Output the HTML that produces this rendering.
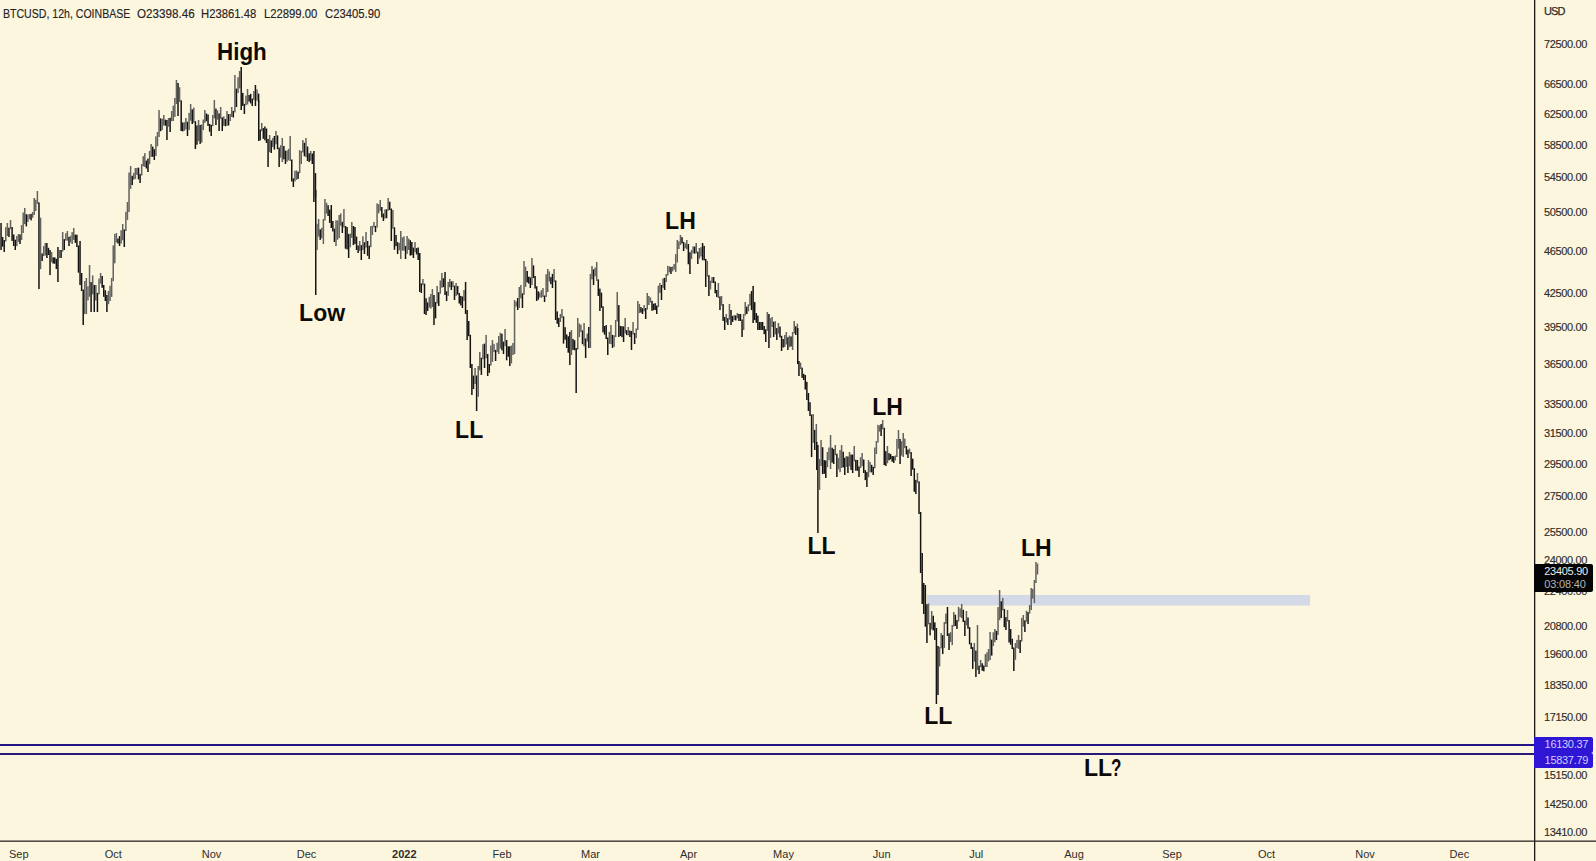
<!DOCTYPE html>
<html><head><meta charset="utf-8">
<style>
html,body{margin:0;padding:0;}
body{width:1596px;height:861px;overflow:hidden;background:#fdf6df;font-family:"Liberation Sans",sans-serif;}
#c{position:relative;width:1596px;height:861px;background:#fdf6df;overflow:hidden;}
svg{position:absolute;left:0;top:0;}
.hdr{position:absolute;left:3px;top:6.6px;font-size:12px;line-height:14px;color:#24231f;white-space:pre;transform:scaleX(0.94);transform-origin:0 0;-webkit-text-stroke:0.15px #24231f;}
.yl{position:absolute;left:1544px;font-size:11px;line-height:11px;color:#2e2d28;letter-spacing:-0.35px;white-space:nowrap;-webkit-text-stroke:0.15px #2e2d28;}
.xl{position:absolute;top:848px;width:60px;text-align:center;font-size:11px;line-height:12px;color:#2e2d28;}
.xl.b{font-weight:bold;}
.an{position:absolute;font-size:23px;line-height:24px;font-weight:bold;color:#0d0b08;white-space:nowrap;}
.tt{position:absolute;font-size:11px;line-height:11px;white-space:nowrap;}
.tag{position:absolute;left:1534px;width:59px;color:#fff;font-size:11px;line-height:13px;text-align:right;box-sizing:border-box;padding-right:6px;letter-spacing:-0.4px;border-radius:0 2px 2px 0;}
</style></head><body><div id="c">
<svg width="1596" height="861" viewBox="0 0 1596 861">
<rect x="927" y="595" width="383" height="10.5" fill="#d3d9e6"/>
<g fill="#1c1c1c">
<rect x="0.30" y="223.0" width="1.5" height="27.0" fill="#141414"/>
<rect x="1.88" y="237.0" width="1.5" height="9.7" fill="#141414"/>
<rect x="3.46" y="240.0" width="1.5" height="12.0" fill="#141414"/>
<rect x="5.04" y="227.1" width="1.5" height="14.4" fill="#62625e"/>
<rect x="6.62" y="223.0" width="1.5" height="13.0" fill="#62625e"/>
<rect x="8.20" y="227.7" width="1.5" height="9.3" fill="#141414"/>
<rect x="9.78" y="220.0" width="1.5" height="9.2" fill="#62625e"/>
<rect x="11.36" y="227.0" width="1.5" height="13.9" fill="#141414"/>
<rect x="12.94" y="234.5" width="1.5" height="11.5" fill="#141414"/>
<rect x="14.52" y="239.7" width="1.5" height="10.3" fill="#141414"/>
<rect x="16.10" y="235.9" width="1.5" height="10.2" fill="#62625e"/>
<rect x="17.68" y="234.0" width="1.5" height="7.9" fill="#62625e"/>
<rect x="19.26" y="234.4" width="1.5" height="9.6" fill="#141414"/>
<rect x="20.84" y="225.0" width="1.5" height="15.0" fill="#62625e"/>
<rect x="22.42" y="212.5" width="1.5" height="20.5" fill="#62625e"/>
<rect x="24.00" y="208.0" width="1.5" height="16.1" fill="#62625e"/>
<rect x="25.58" y="214.2" width="1.5" height="12.2" fill="#141414"/>
<rect x="27.16" y="214.5" width="1.5" height="7.5" fill="#62625e"/>
<rect x="28.74" y="214.0" width="1.5" height="5.0" fill="#62625e"/>
<rect x="30.32" y="213.9" width="1.5" height="6.5" fill="#141414"/>
<rect x="31.90" y="212.0" width="1.5" height="5.8" fill="#62625e"/>
<rect x="33.48" y="198.0" width="1.5" height="17.0" fill="#62625e"/>
<rect x="35.06" y="199.7" width="1.5" height="11.3" fill="#62625e"/>
<rect x="36.64" y="191.0" width="1.5" height="12.9" fill="#62625e"/>
<rect x="38.22" y="202.4" width="1.5" height="86.6" fill="#141414"/>
<rect x="39.80" y="217.7" width="1.5" height="51.5" fill="#62625e"/>
<rect x="41.38" y="253.5" width="1.5" height="7.5" fill="#141414"/>
<rect x="42.96" y="246.1" width="1.5" height="10.0" fill="#62625e"/>
<rect x="44.54" y="243.0" width="1.5" height="12.4" fill="#62625e"/>
<rect x="46.12" y="243.0" width="1.5" height="15.0" fill="#141414"/>
<rect x="47.70" y="247.8" width="1.5" height="7.2" fill="#141414"/>
<rect x="49.28" y="250.0" width="1.5" height="25.0" fill="#141414"/>
<rect x="50.86" y="252.0" width="1.5" height="10.2" fill="#62625e"/>
<rect x="52.44" y="257.3" width="1.5" height="6.3" fill="#141414"/>
<rect x="54.02" y="257.4" width="1.5" height="6.3" fill="#141414"/>
<rect x="55.60" y="258.8" width="1.5" height="10.2" fill="#141414"/>
<rect x="57.18" y="247.0" width="1.5" height="35.0" fill="#141414"/>
<rect x="58.76" y="250.0" width="1.5" height="8.0" fill="#62625e"/>
<rect x="60.34" y="250.0" width="1.5" height="8.0" fill="#141414"/>
<rect x="61.92" y="232.0" width="1.5" height="19.5" fill="#62625e"/>
<rect x="63.50" y="239.1" width="1.5" height="10.9" fill="#141414"/>
<rect x="65.08" y="233.2" width="1.5" height="7.4" fill="#62625e"/>
<rect x="66.66" y="231.0" width="1.5" height="9.7" fill="#62625e"/>
<rect x="68.24" y="236.9" width="1.5" height="9.1" fill="#141414"/>
<rect x="69.82" y="235.7" width="1.5" height="6.8" fill="#62625e"/>
<rect x="71.40" y="232.1" width="1.5" height="11.9" fill="#62625e"/>
<rect x="72.98" y="228.0" width="1.5" height="11.9" fill="#62625e"/>
<rect x="74.56" y="234.6" width="1.5" height="8.3" fill="#141414"/>
<rect x="76.14" y="234.7" width="1.5" height="12.3" fill="#141414"/>
<rect x="77.72" y="245.5" width="1.5" height="27.2" fill="#141414"/>
<rect x="79.30" y="241.0" width="1.5" height="44.0" fill="#141414"/>
<rect x="80.88" y="273.0" width="1.5" height="18.0" fill="#141414"/>
<rect x="82.46" y="289.5" width="1.5" height="35.5" fill="#141414"/>
<rect x="84.04" y="281.0" width="1.5" height="33.1" fill="#62625e"/>
<rect x="85.62" y="278.0" width="1.5" height="36.0" fill="#62625e"/>
<rect x="87.20" y="286.3" width="1.5" height="14.1" fill="#62625e"/>
<rect x="88.78" y="265.0" width="1.5" height="31.7" fill="#62625e"/>
<rect x="90.36" y="282.1" width="1.5" height="29.9" fill="#141414"/>
<rect x="91.94" y="275.4" width="1.5" height="19.0" fill="#62625e"/>
<rect x="93.52" y="285.0" width="1.5" height="27.0" fill="#141414"/>
<rect x="95.10" y="285.0" width="1.5" height="15.5" fill="#62625e"/>
<rect x="96.68" y="292.9" width="1.5" height="19.1" fill="#141414"/>
<rect x="98.26" y="278.6" width="1.5" height="15.8" fill="#62625e"/>
<rect x="99.84" y="273.0" width="1.5" height="10.6" fill="#62625e"/>
<rect x="101.42" y="276.0" width="1.5" height="11.8" fill="#141414"/>
<rect x="103.00" y="285.0" width="1.5" height="11.8" fill="#141414"/>
<rect x="104.58" y="290.2" width="1.5" height="10.8" fill="#141414"/>
<rect x="106.16" y="294.9" width="1.5" height="17.1" fill="#141414"/>
<rect x="107.74" y="291.0" width="1.5" height="13.2" fill="#62625e"/>
<rect x="109.32" y="285.7" width="1.5" height="15.3" fill="#62625e"/>
<rect x="110.90" y="278.0" width="1.5" height="18.9" fill="#62625e"/>
<rect x="112.48" y="245.4" width="1.5" height="35.6" fill="#62625e"/>
<rect x="114.06" y="234.0" width="1.5" height="29.3" fill="#62625e"/>
<rect x="115.64" y="233.0" width="1.5" height="9.5" fill="#62625e"/>
<rect x="117.22" y="238.5" width="1.5" height="5.0" fill="#141414"/>
<rect x="118.80" y="236.1" width="1.5" height="9.9" fill="#141414"/>
<rect x="120.38" y="230.2" width="1.5" height="13.3" fill="#62625e"/>
<rect x="121.96" y="224.0" width="1.5" height="16.2" fill="#62625e"/>
<rect x="123.54" y="229.4" width="1.5" height="17.6" fill="#141414"/>
<rect x="125.12" y="211.8" width="1.5" height="19.2" fill="#62625e"/>
<rect x="126.70" y="202.0" width="1.5" height="17.9" fill="#62625e"/>
<rect x="128.28" y="172.5" width="1.5" height="39.5" fill="#62625e"/>
<rect x="129.86" y="166.0" width="1.5" height="22.9" fill="#62625e"/>
<rect x="131.44" y="175.8" width="1.5" height="9.2" fill="#141414"/>
<rect x="133.02" y="172.8" width="1.5" height="6.9" fill="#62625e"/>
<rect x="134.60" y="168.0" width="1.5" height="10.9" fill="#62625e"/>
<rect x="136.18" y="167.9" width="1.5" height="7.0" fill="#62625e"/>
<rect x="137.76" y="167.6" width="1.5" height="11.8" fill="#141414"/>
<rect x="139.34" y="173.9" width="1.5" height="9.1" fill="#141414"/>
<rect x="140.92" y="164.0" width="1.5" height="11.5" fill="#62625e"/>
<rect x="142.50" y="156.2" width="1.5" height="10.2" fill="#62625e"/>
<rect x="144.08" y="153.1" width="1.5" height="13.8" fill="#62625e"/>
<rect x="145.66" y="160.6" width="1.5" height="7.9" fill="#141414"/>
<rect x="147.24" y="158.6" width="1.5" height="13.4" fill="#141414"/>
<rect x="148.82" y="151.0" width="1.5" height="13.1" fill="#62625e"/>
<rect x="150.40" y="144.0" width="1.5" height="13.0" fill="#62625e"/>
<rect x="151.98" y="146.6" width="1.5" height="10.2" fill="#141414"/>
<rect x="153.56" y="149.2" width="1.5" height="10.8" fill="#141414"/>
<rect x="155.14" y="136.4" width="1.5" height="19.6" fill="#62625e"/>
<rect x="156.72" y="132.0" width="1.5" height="14.2" fill="#62625e"/>
<rect x="158.30" y="110.0" width="1.5" height="27.0" fill="#62625e"/>
<rect x="159.88" y="118.4" width="1.5" height="12.8" fill="#141414"/>
<rect x="161.46" y="118.7" width="1.5" height="11.3" fill="#62625e"/>
<rect x="163.04" y="115.0" width="1.5" height="10.7" fill="#62625e"/>
<rect x="164.62" y="119.6" width="1.5" height="6.0" fill="#141414"/>
<rect x="166.20" y="120.0" width="1.5" height="20.0" fill="#141414"/>
<rect x="167.78" y="118.1" width="1.5" height="8.6" fill="#62625e"/>
<rect x="169.36" y="117.8" width="1.5" height="14.2" fill="#141414"/>
<rect x="170.94" y="111.0" width="1.5" height="10.2" fill="#62625e"/>
<rect x="172.52" y="105.7" width="1.5" height="15.3" fill="#62625e"/>
<rect x="174.10" y="98.0" width="1.5" height="18.9" fill="#62625e"/>
<rect x="175.68" y="80.0" width="1.5" height="24.0" fill="#62625e"/>
<rect x="177.26" y="83.0" width="1.5" height="33.0" fill="#141414"/>
<rect x="178.84" y="87.2" width="1.5" height="14.6" fill="#62625e"/>
<rect x="180.42" y="100.3" width="1.5" height="30.7" fill="#141414"/>
<rect x="182.00" y="122.5" width="1.5" height="8.9" fill="#141414"/>
<rect x="183.58" y="122.2" width="1.5" height="8.6" fill="#62625e"/>
<rect x="185.16" y="118.0" width="1.5" height="11.4" fill="#62625e"/>
<rect x="186.74" y="121.7" width="1.5" height="14.3" fill="#141414"/>
<rect x="188.32" y="112.9" width="1.5" height="17.1" fill="#62625e"/>
<rect x="189.90" y="104.0" width="1.5" height="16.7" fill="#62625e"/>
<rect x="191.48" y="109.3" width="1.5" height="14.7" fill="#141414"/>
<rect x="193.06" y="107.5" width="1.5" height="15.3" fill="#62625e"/>
<rect x="194.64" y="121.2" width="1.5" height="27.8" fill="#141414"/>
<rect x="196.22" y="125.4" width="1.5" height="19.3" fill="#141414"/>
<rect x="197.80" y="120.0" width="1.5" height="21.0" fill="#62625e"/>
<rect x="199.38" y="124.9" width="1.5" height="19.0" fill="#141414"/>
<rect x="200.96" y="124.4" width="1.5" height="18.2" fill="#62625e"/>
<rect x="202.54" y="119.5" width="1.5" height="10.5" fill="#62625e"/>
<rect x="204.12" y="110.0" width="1.5" height="12.9" fill="#62625e"/>
<rect x="205.70" y="113.5" width="1.5" height="7.7" fill="#141414"/>
<rect x="207.28" y="114.5" width="1.5" height="11.4" fill="#141414"/>
<rect x="208.86" y="123.9" width="1.5" height="7.8" fill="#141414"/>
<rect x="210.44" y="124.8" width="1.5" height="11.2" fill="#141414"/>
<rect x="212.02" y="115.0" width="1.5" height="11.3" fill="#62625e"/>
<rect x="213.60" y="100.0" width="1.5" height="18.4" fill="#62625e"/>
<rect x="215.18" y="108.6" width="1.5" height="16.4" fill="#141414"/>
<rect x="216.76" y="110.4" width="1.5" height="9.2" fill="#62625e"/>
<rect x="218.34" y="113.4" width="1.5" height="17.6" fill="#141414"/>
<rect x="219.92" y="107.0" width="1.5" height="11.9" fill="#62625e"/>
<rect x="221.50" y="117.4" width="1.5" height="13.6" fill="#141414"/>
<rect x="223.08" y="116.3" width="1.5" height="9.5" fill="#62625e"/>
<rect x="224.66" y="119.0" width="1.5" height="7.2" fill="#141414"/>
<rect x="226.24" y="111.0" width="1.5" height="14.9" fill="#62625e"/>
<rect x="227.82" y="114.1" width="1.5" height="11.3" fill="#141414"/>
<rect x="229.40" y="113.9" width="1.5" height="7.1" fill="#62625e"/>
<rect x="230.98" y="107.0" width="1.5" height="9.9" fill="#62625e"/>
<rect x="232.56" y="110.9" width="1.5" height="6.6" fill="#141414"/>
<rect x="234.14" y="75.0" width="1.5" height="37.4" fill="#62625e"/>
<rect x="235.72" y="88.6" width="1.5" height="18.4" fill="#141414"/>
<rect x="237.30" y="77.2" width="1.5" height="15.8" fill="#62625e"/>
<rect x="238.88" y="71.0" width="1.5" height="17.4" fill="#62625e"/>
<rect x="240.46" y="67.0" width="1.5" height="43.0" fill="#141414"/>
<rect x="242.04" y="92.9" width="1.5" height="13.0" fill="#141414"/>
<rect x="243.62" y="103.8" width="1.5" height="10.2" fill="#141414"/>
<rect x="245.20" y="95.6" width="1.5" height="9.7" fill="#62625e"/>
<rect x="246.78" y="89.0" width="1.5" height="15.5" fill="#62625e"/>
<rect x="248.36" y="95.0" width="1.5" height="6.6" fill="#141414"/>
<rect x="249.94" y="93.8" width="1.5" height="9.6" fill="#141414"/>
<rect x="251.52" y="98.6" width="1.5" height="7.4" fill="#141414"/>
<rect x="253.10" y="91.0" width="1.5" height="9.1" fill="#62625e"/>
<rect x="254.68" y="85.0" width="1.5" height="21.0" fill="#141414"/>
<rect x="256.26" y="89.4" width="1.5" height="11.2" fill="#62625e"/>
<rect x="257.84" y="93.6" width="1.5" height="8.4" fill="#141414"/>
<rect x="258.00" y="100.6" width="1.5" height="40.4" fill="#141414"/>
<rect x="259.42" y="129.5" width="1.5" height="10.8" fill="#141414"/>
<rect x="261.00" y="123.0" width="1.5" height="8.1" fill="#62625e"/>
<rect x="262.58" y="128.1" width="1.5" height="10.7" fill="#141414"/>
<rect x="264.16" y="126.5" width="1.5" height="13.8" fill="#141414"/>
<rect x="265.74" y="128.5" width="1.5" height="14.5" fill="#141414"/>
<rect x="267.32" y="139.0" width="1.5" height="28.0" fill="#141414"/>
<rect x="268.90" y="135.0" width="1.5" height="17.1" fill="#62625e"/>
<rect x="270.48" y="140.4" width="1.5" height="12.6" fill="#141414"/>
<rect x="272.06" y="138.1" width="1.5" height="9.0" fill="#62625e"/>
<rect x="273.64" y="136.0" width="1.5" height="13.6" fill="#141414"/>
<rect x="275.22" y="131.0" width="1.5" height="13.3" fill="#62625e"/>
<rect x="276.80" y="135.4" width="1.5" height="13.7" fill="#141414"/>
<rect x="278.38" y="147.6" width="1.5" height="19.4" fill="#141414"/>
<rect x="279.96" y="145.2" width="1.5" height="12.4" fill="#62625e"/>
<rect x="281.54" y="138.0" width="1.5" height="24.1" fill="#62625e"/>
<rect x="283.12" y="146.0" width="1.5" height="13.3" fill="#141414"/>
<rect x="284.70" y="150.7" width="1.5" height="13.3" fill="#141414"/>
<rect x="286.28" y="150.4" width="1.5" height="11.4" fill="#62625e"/>
<rect x="287.86" y="148.8" width="1.5" height="11.5" fill="#62625e"/>
<rect x="289.44" y="136.0" width="1.5" height="25.0" fill="#62625e"/>
<rect x="291.02" y="159.5" width="1.5" height="22.0" fill="#141414"/>
<rect x="292.60" y="178.3" width="1.5" height="8.7" fill="#141414"/>
<rect x="294.18" y="170.8" width="1.5" height="10.6" fill="#62625e"/>
<rect x="295.76" y="170.4" width="1.5" height="9.5" fill="#62625e"/>
<rect x="297.34" y="171.7" width="1.5" height="7.2" fill="#141414"/>
<rect x="298.92" y="150.1" width="1.5" height="23.1" fill="#62625e"/>
<rect x="300.50" y="151.0" width="1.5" height="13.0" fill="#62625e"/>
<rect x="302.08" y="140.0" width="1.5" height="12.5" fill="#62625e"/>
<rect x="303.66" y="142.7" width="1.5" height="13.6" fill="#141414"/>
<rect x="305.24" y="138.0" width="1.5" height="19.1" fill="#62625e"/>
<rect x="306.82" y="146.5" width="1.5" height="14.5" fill="#141414"/>
<rect x="308.40" y="153.3" width="1.5" height="8.8" fill="#141414"/>
<rect x="309.98" y="151.0" width="1.5" height="9.7" fill="#62625e"/>
<rect x="311.56" y="153.5" width="1.5" height="10.5" fill="#141414"/>
<rect x="313.14" y="151.0" width="1.5" height="51.0" fill="#141414"/>
<rect x="314.72" y="173.1" width="1.5" height="24.4" fill="#141414"/>
<rect x="315.00" y="190.0" width="1.5" height="105.0" fill="#141414"/>
<rect x="316.30" y="223.8" width="1.5" height="26.2" fill="#62625e"/>
<rect x="317.88" y="219.0" width="1.5" height="17.6" fill="#62625e"/>
<rect x="319.46" y="229.4" width="1.5" height="10.5" fill="#141414"/>
<rect x="321.04" y="227.8" width="1.5" height="10.5" fill="#62625e"/>
<rect x="322.62" y="219.0" width="1.5" height="25.0" fill="#62625e"/>
<rect x="324.20" y="199.0" width="1.5" height="21.5" fill="#62625e"/>
<rect x="325.78" y="202.7" width="1.5" height="11.0" fill="#62625e"/>
<rect x="327.36" y="205.2" width="1.5" height="10.8" fill="#141414"/>
<rect x="328.94" y="209.6" width="1.5" height="13.3" fill="#141414"/>
<rect x="330.52" y="205.0" width="1.5" height="23.0" fill="#141414"/>
<rect x="332.10" y="221.0" width="1.5" height="10.5" fill="#141414"/>
<rect x="333.68" y="228.6" width="1.5" height="13.4" fill="#141414"/>
<rect x="335.26" y="220.3" width="1.5" height="25.7" fill="#62625e"/>
<rect x="336.84" y="220.4" width="1.5" height="19.3" fill="#62625e"/>
<rect x="338.42" y="215.0" width="1.5" height="23.1" fill="#62625e"/>
<rect x="340.00" y="213.4" width="1.5" height="12.4" fill="#62625e"/>
<rect x="341.58" y="221.8" width="1.5" height="11.2" fill="#141414"/>
<rect x="343.16" y="209.0" width="1.5" height="18.5" fill="#62625e"/>
<rect x="344.74" y="226.0" width="1.5" height="22.7" fill="#141414"/>
<rect x="346.32" y="227.0" width="1.5" height="22.4" fill="#141414"/>
<rect x="347.90" y="233.9" width="1.5" height="24.1" fill="#141414"/>
<rect x="349.48" y="233.6" width="1.5" height="13.7" fill="#62625e"/>
<rect x="351.06" y="222.0" width="1.5" height="15.8" fill="#62625e"/>
<rect x="352.64" y="226.0" width="1.5" height="19.1" fill="#141414"/>
<rect x="354.22" y="227.0" width="1.5" height="16.9" fill="#141414"/>
<rect x="355.80" y="236.6" width="1.5" height="13.4" fill="#141414"/>
<rect x="357.38" y="245.5" width="1.5" height="7.5" fill="#141414"/>
<rect x="358.96" y="241.0" width="1.5" height="9.8" fill="#62625e"/>
<rect x="360.54" y="245.1" width="1.5" height="14.9" fill="#141414"/>
<rect x="362.12" y="236.2" width="1.5" height="13.9" fill="#62625e"/>
<rect x="363.70" y="242.2" width="1.5" height="11.8" fill="#141414"/>
<rect x="365.28" y="232.0" width="1.5" height="15.6" fill="#62625e"/>
<rect x="366.86" y="241.0" width="1.5" height="14.8" fill="#141414"/>
<rect x="368.44" y="245.7" width="1.5" height="13.3" fill="#141414"/>
<rect x="370.02" y="226.1" width="1.5" height="21.1" fill="#62625e"/>
<rect x="371.60" y="225.9" width="1.5" height="9.1" fill="#62625e"/>
<rect x="373.18" y="222.0" width="1.5" height="5.4" fill="#62625e"/>
<rect x="374.76" y="225.9" width="1.5" height="6.2" fill="#141414"/>
<rect x="376.34" y="203.4" width="1.5" height="24.1" fill="#62625e"/>
<rect x="377.92" y="204.1" width="1.5" height="9.2" fill="#62625e"/>
<rect x="379.50" y="200.0" width="1.5" height="10.9" fill="#62625e"/>
<rect x="381.08" y="207.0" width="1.5" height="10.4" fill="#141414"/>
<rect x="382.66" y="213.5" width="1.5" height="7.5" fill="#141414"/>
<rect x="384.24" y="209.4" width="1.5" height="9.2" fill="#62625e"/>
<rect x="385.82" y="209.3" width="1.5" height="8.9" fill="#141414"/>
<rect x="387.40" y="198.0" width="1.5" height="12.8" fill="#62625e"/>
<rect x="388.98" y="201.7" width="1.5" height="8.3" fill="#141414"/>
<rect x="390.56" y="208.5" width="1.5" height="32.5" fill="#141414"/>
<rect x="392.14" y="210.0" width="1.5" height="18.8" fill="#62625e"/>
<rect x="393.72" y="227.3" width="1.5" height="22.5" fill="#141414"/>
<rect x="395.30" y="235.0" width="1.5" height="11.1" fill="#141414"/>
<rect x="396.88" y="242.2" width="1.5" height="11.8" fill="#141414"/>
<rect x="398.46" y="242.8" width="1.5" height="7.5" fill="#62625e"/>
<rect x="400.04" y="231.0" width="1.5" height="28.0" fill="#62625e"/>
<rect x="401.62" y="237.4" width="1.5" height="13.3" fill="#62625e"/>
<rect x="403.20" y="236.4" width="1.5" height="14.3" fill="#62625e"/>
<rect x="404.78" y="245.9" width="1.5" height="13.1" fill="#141414"/>
<rect x="406.36" y="236.0" width="1.5" height="17.9" fill="#62625e"/>
<rect x="407.94" y="238.6" width="1.5" height="11.4" fill="#62625e"/>
<rect x="409.52" y="240.2" width="1.5" height="15.4" fill="#141414"/>
<rect x="411.10" y="242.0" width="1.5" height="13.2" fill="#141414"/>
<rect x="412.68" y="247.6" width="1.5" height="10.4" fill="#141414"/>
<rect x="414.26" y="242.0" width="1.5" height="10.1" fill="#62625e"/>
<rect x="415.84" y="248.1" width="1.5" height="6.4" fill="#141414"/>
<rect x="417.42" y="247.5" width="1.5" height="12.5" fill="#141414"/>
<rect x="419.00" y="253.0" width="1.5" height="39.0" fill="#141414"/>
<rect x="420.58" y="283.4" width="1.5" height="9.6" fill="#141414"/>
<rect x="422.16" y="279.0" width="1.5" height="6.1" fill="#62625e"/>
<rect x="423.74" y="283.6" width="1.5" height="30.4" fill="#141414"/>
<rect x="425.32" y="298.3" width="1.5" height="16.7" fill="#141414"/>
<rect x="426.90" y="302.4" width="1.5" height="8.6" fill="#141414"/>
<rect x="428.48" y="296.8" width="1.5" height="10.8" fill="#62625e"/>
<rect x="430.06" y="294.0" width="1.5" height="14.7" fill="#62625e"/>
<rect x="431.64" y="289.0" width="1.5" height="18.0" fill="#62625e"/>
<rect x="433.22" y="295.0" width="1.5" height="30.0" fill="#141414"/>
<rect x="434.80" y="302.0" width="1.5" height="16.3" fill="#141414"/>
<rect x="436.38" y="286.0" width="1.5" height="17.5" fill="#62625e"/>
<rect x="437.96" y="292.2" width="1.5" height="13.8" fill="#141414"/>
<rect x="439.54" y="280.5" width="1.5" height="13.2" fill="#62625e"/>
<rect x="441.12" y="273.0" width="1.5" height="14.7" fill="#62625e"/>
<rect x="442.70" y="278.2" width="1.5" height="8.9" fill="#141414"/>
<rect x="444.28" y="272.0" width="1.5" height="23.0" fill="#141414"/>
<rect x="445.86" y="291.3" width="1.5" height="9.7" fill="#141414"/>
<rect x="447.44" y="282.0" width="1.5" height="13.8" fill="#62625e"/>
<rect x="449.02" y="279.0" width="1.5" height="8.2" fill="#62625e"/>
<rect x="450.60" y="281.4" width="1.5" height="8.6" fill="#141414"/>
<rect x="452.18" y="281.1" width="1.5" height="6.0" fill="#62625e"/>
<rect x="453.76" y="285.6" width="1.5" height="14.4" fill="#141414"/>
<rect x="455.34" y="283.0" width="1.5" height="13.1" fill="#62625e"/>
<rect x="456.92" y="286.0" width="1.5" height="8.6" fill="#141414"/>
<rect x="458.50" y="293.0" width="1.5" height="10.5" fill="#141414"/>
<rect x="460.08" y="295.9" width="1.5" height="9.5" fill="#141414"/>
<rect x="461.66" y="296.5" width="1.5" height="11.5" fill="#141414"/>
<rect x="463.24" y="290.0" width="1.5" height="10.9" fill="#62625e"/>
<rect x="464.82" y="282.0" width="1.5" height="32.0" fill="#141414"/>
<rect x="466.40" y="310.0" width="1.5" height="30.0" fill="#141414"/>
<rect x="467.98" y="321.0" width="1.5" height="15.2" fill="#141414"/>
<rect x="469.56" y="334.8" width="1.5" height="33.2" fill="#141414"/>
<rect x="471.14" y="364.0" width="1.5" height="31.0" fill="#141414"/>
<rect x="472.72" y="375.6" width="1.5" height="13.4" fill="#141414"/>
<rect x="474.30" y="368.0" width="1.5" height="16.1" fill="#62625e"/>
<rect x="475.88" y="375.5" width="1.5" height="35.5" fill="#141414"/>
<rect x="477.46" y="366.0" width="1.5" height="30.7" fill="#62625e"/>
<rect x="479.04" y="352.0" width="1.5" height="18.3" fill="#62625e"/>
<rect x="480.62" y="357.7" width="1.5" height="17.3" fill="#141414"/>
<rect x="482.20" y="344.2" width="1.5" height="15.0" fill="#62625e"/>
<rect x="483.78" y="343.6" width="1.5" height="24.4" fill="#141414"/>
<rect x="485.36" y="335.0" width="1.5" height="23.3" fill="#62625e"/>
<rect x="486.94" y="354.0" width="1.5" height="22.0" fill="#141414"/>
<rect x="488.52" y="364.0" width="1.5" height="8.8" fill="#141414"/>
<rect x="490.10" y="345.4" width="1.5" height="20.1" fill="#62625e"/>
<rect x="491.68" y="340.0" width="1.5" height="22.0" fill="#62625e"/>
<rect x="493.26" y="343.8" width="1.5" height="8.3" fill="#62625e"/>
<rect x="494.84" y="349.9" width="1.5" height="11.1" fill="#141414"/>
<rect x="496.42" y="342.7" width="1.5" height="9.4" fill="#62625e"/>
<rect x="498.00" y="336.0" width="1.5" height="17.9" fill="#62625e"/>
<rect x="499.58" y="332.8" width="1.5" height="15.6" fill="#62625e"/>
<rect x="501.16" y="333.7" width="1.5" height="16.6" fill="#141414"/>
<rect x="502.74" y="341.6" width="1.5" height="12.4" fill="#141414"/>
<rect x="504.32" y="329.0" width="1.5" height="17.1" fill="#62625e"/>
<rect x="505.90" y="340.0" width="1.5" height="20.3" fill="#141414"/>
<rect x="507.48" y="346.3" width="1.5" height="10.4" fill="#141414"/>
<rect x="509.06" y="346.3" width="1.5" height="19.7" fill="#141414"/>
<rect x="510.64" y="345.5" width="1.5" height="17.9" fill="#62625e"/>
<rect x="512.22" y="343.0" width="1.5" height="12.0" fill="#62625e"/>
<rect x="513.80" y="300.0" width="1.5" height="54.0" fill="#62625e"/>
<rect x="515.38" y="301.5" width="1.5" height="5.1" fill="#62625e"/>
<rect x="516.96" y="298.0" width="1.5" height="12.0" fill="#141414"/>
<rect x="518.54" y="287.0" width="1.5" height="21.0" fill="#62625e"/>
<rect x="520.12" y="285.0" width="1.5" height="13.4" fill="#62625e"/>
<rect x="521.70" y="293.3" width="1.5" height="14.7" fill="#141414"/>
<rect x="523.28" y="261.0" width="1.5" height="33.8" fill="#62625e"/>
<rect x="524.86" y="266.7" width="1.5" height="20.2" fill="#62625e"/>
<rect x="526.44" y="271.0" width="1.5" height="11.4" fill="#141414"/>
<rect x="528.02" y="276.7" width="1.5" height="6.9" fill="#141414"/>
<rect x="529.60" y="277.3" width="1.5" height="10.7" fill="#141414"/>
<rect x="531.18" y="258.0" width="1.5" height="27.0" fill="#62625e"/>
<rect x="532.76" y="265.4" width="1.5" height="12.7" fill="#141414"/>
<rect x="534.34" y="276.0" width="1.5" height="12.6" fill="#141414"/>
<rect x="535.92" y="286.3" width="1.5" height="14.7" fill="#141414"/>
<rect x="537.50" y="291.3" width="1.5" height="8.4" fill="#141414"/>
<rect x="539.08" y="292.5" width="1.5" height="5.0" fill="#62625e"/>
<rect x="540.66" y="290.1" width="1.5" height="7.6" fill="#62625e"/>
<rect x="542.24" y="288.0" width="1.5" height="9.0" fill="#62625e"/>
<rect x="543.82" y="295.5" width="1.5" height="6.5" fill="#141414"/>
<rect x="545.40" y="274.3" width="1.5" height="22.7" fill="#62625e"/>
<rect x="546.98" y="269.0" width="1.5" height="23.0" fill="#62625e"/>
<rect x="548.56" y="271.4" width="1.5" height="10.1" fill="#62625e"/>
<rect x="550.14" y="277.1" width="1.5" height="7.1" fill="#141414"/>
<rect x="551.72" y="273.9" width="1.5" height="14.1" fill="#141414"/>
<rect x="553.30" y="269.0" width="1.5" height="12.9" fill="#62625e"/>
<rect x="554.88" y="280.4" width="1.5" height="39.6" fill="#141414"/>
<rect x="556.46" y="311.4" width="1.5" height="12.4" fill="#141414"/>
<rect x="558.04" y="317.9" width="1.5" height="9.1" fill="#141414"/>
<rect x="559.62" y="314.0" width="1.5" height="8.0" fill="#62625e"/>
<rect x="561.20" y="309.0" width="1.5" height="8.9" fill="#62625e"/>
<rect x="562.78" y="316.4" width="1.5" height="27.2" fill="#141414"/>
<rect x="564.36" y="327.2" width="1.5" height="12.5" fill="#141414"/>
<rect x="565.94" y="334.4" width="1.5" height="13.6" fill="#141414"/>
<rect x="567.52" y="336.3" width="1.5" height="16.4" fill="#141414"/>
<rect x="569.10" y="332.0" width="1.5" height="33.0" fill="#141414"/>
<rect x="570.68" y="330.0" width="1.5" height="25.0" fill="#62625e"/>
<rect x="572.26" y="338.9" width="1.5" height="11.0" fill="#141414"/>
<rect x="573.84" y="340.2" width="1.5" height="10.1" fill="#141414"/>
<rect x="575.42" y="348.0" width="1.5" height="45.0" fill="#141414"/>
<rect x="577.00" y="318.0" width="1.5" height="31.5" fill="#62625e"/>
<rect x="578.58" y="323.5" width="1.5" height="13.5" fill="#62625e"/>
<rect x="580.16" y="324.7" width="1.5" height="7.2" fill="#62625e"/>
<rect x="581.74" y="330.4" width="1.5" height="13.8" fill="#141414"/>
<rect x="583.32" y="323.0" width="1.5" height="23.3" fill="#62625e"/>
<rect x="584.90" y="338.4" width="1.5" height="19.6" fill="#141414"/>
<rect x="586.48" y="333.6" width="1.5" height="7.9" fill="#62625e"/>
<rect x="588.06" y="327.0" width="1.5" height="21.0" fill="#141414"/>
<rect x="589.64" y="274.0" width="1.5" height="74.0" fill="#62625e"/>
<rect x="591.22" y="266.1" width="1.5" height="13.2" fill="#62625e"/>
<rect x="592.80" y="269.3" width="1.5" height="15.7" fill="#141414"/>
<rect x="594.38" y="267.6" width="1.5" height="8.7" fill="#62625e"/>
<rect x="595.96" y="262.0" width="1.5" height="18.9" fill="#62625e"/>
<rect x="597.54" y="279.4" width="1.5" height="16.5" fill="#141414"/>
<rect x="599.12" y="288.6" width="1.5" height="22.4" fill="#141414"/>
<rect x="600.70" y="292.6" width="1.5" height="15.3" fill="#141414"/>
<rect x="602.28" y="306.3" width="1.5" height="26.0" fill="#141414"/>
<rect x="603.86" y="326.0" width="1.5" height="8.7" fill="#141414"/>
<rect x="605.44" y="325.1" width="1.5" height="13.9" fill="#141414"/>
<rect x="607.02" y="337.5" width="1.5" height="17.5" fill="#141414"/>
<rect x="608.60" y="331.9" width="1.5" height="11.9" fill="#62625e"/>
<rect x="610.18" y="325.0" width="1.5" height="19.1" fill="#62625e"/>
<rect x="611.76" y="334.9" width="1.5" height="13.0" fill="#141414"/>
<rect x="613.34" y="335.2" width="1.5" height="11.6" fill="#62625e"/>
<rect x="614.92" y="320.0" width="1.5" height="17.0" fill="#62625e"/>
<rect x="616.50" y="292.0" width="1.5" height="29.5" fill="#62625e"/>
<rect x="618.08" y="305.1" width="1.5" height="31.9" fill="#141414"/>
<rect x="619.66" y="325.9" width="1.5" height="10.1" fill="#141414"/>
<rect x="621.24" y="326.2" width="1.5" height="11.0" fill="#141414"/>
<rect x="622.82" y="326.4" width="1.5" height="15.6" fill="#141414"/>
<rect x="624.40" y="318.0" width="1.5" height="15.4" fill="#62625e"/>
<rect x="625.98" y="330.1" width="1.5" height="5.0" fill="#141414"/>
<rect x="627.56" y="327.0" width="1.5" height="8.2" fill="#62625e"/>
<rect x="629.14" y="330.5" width="1.5" height="6.5" fill="#141414"/>
<rect x="630.72" y="331.0" width="1.5" height="19.0" fill="#141414"/>
<rect x="632.30" y="322.0" width="1.5" height="12.5" fill="#62625e"/>
<rect x="633.88" y="333.0" width="1.5" height="11.0" fill="#141414"/>
<rect x="635.46" y="328.5" width="1.5" height="9.6" fill="#62625e"/>
<rect x="637.04" y="301.0" width="1.5" height="29.0" fill="#62625e"/>
<rect x="638.62" y="303.9" width="1.5" height="9.2" fill="#62625e"/>
<rect x="640.20" y="307.1" width="1.5" height="5.5" fill="#141414"/>
<rect x="641.78" y="308.3" width="1.5" height="5.7" fill="#141414"/>
<rect x="643.36" y="305.0" width="1.5" height="6.3" fill="#62625e"/>
<rect x="644.94" y="308.0" width="1.5" height="11.0" fill="#141414"/>
<rect x="646.52" y="293.0" width="1.5" height="16.5" fill="#62625e"/>
<rect x="648.10" y="296.0" width="1.5" height="9.0" fill="#62625e"/>
<rect x="649.68" y="297.4" width="1.5" height="5.0" fill="#62625e"/>
<rect x="651.26" y="300.9" width="1.5" height="9.9" fill="#141414"/>
<rect x="652.84" y="303.7" width="1.5" height="6.5" fill="#141414"/>
<rect x="654.42" y="303.2" width="1.5" height="6.8" fill="#141414"/>
<rect x="656.00" y="305.5" width="1.5" height="8.5" fill="#141414"/>
<rect x="657.58" y="285.7" width="1.5" height="21.3" fill="#62625e"/>
<rect x="659.16" y="283.0" width="1.5" height="9.9" fill="#62625e"/>
<rect x="660.74" y="285.0" width="1.5" height="15.0" fill="#141414"/>
<rect x="662.32" y="278.4" width="1.5" height="9.5" fill="#62625e"/>
<rect x="663.90" y="277.9" width="1.5" height="12.1" fill="#141414"/>
<rect x="665.48" y="274.0" width="1.5" height="8.0" fill="#62625e"/>
<rect x="667.06" y="265.9" width="1.5" height="9.6" fill="#62625e"/>
<rect x="668.64" y="266.3" width="1.5" height="6.0" fill="#62625e"/>
<rect x="670.22" y="267.0" width="1.5" height="7.0" fill="#141414"/>
<rect x="671.80" y="266.4" width="1.5" height="5.0" fill="#62625e"/>
<rect x="673.38" y="264.0" width="1.5" height="5.7" fill="#62625e"/>
<rect x="674.96" y="254.2" width="1.5" height="17.8" fill="#62625e"/>
<rect x="676.54" y="240.0" width="1.5" height="22.5" fill="#62625e"/>
<rect x="678.12" y="241.3" width="1.5" height="7.7" fill="#62625e"/>
<rect x="679.70" y="235.0" width="1.5" height="10.0" fill="#62625e"/>
<rect x="681.28" y="237.2" width="1.5" height="6.2" fill="#141414"/>
<rect x="682.86" y="241.9" width="1.5" height="9.1" fill="#141414"/>
<rect x="684.44" y="243.3" width="1.5" height="5.0" fill="#62625e"/>
<rect x="686.02" y="240.0" width="1.5" height="9.3" fill="#62625e"/>
<rect x="687.60" y="244.0" width="1.5" height="20.3" fill="#141414"/>
<rect x="689.18" y="252.3" width="1.5" height="21.7" fill="#141414"/>
<rect x="690.76" y="250.1" width="1.5" height="8.9" fill="#62625e"/>
<rect x="692.34" y="246.4" width="1.5" height="7.0" fill="#62625e"/>
<rect x="693.92" y="246.5" width="1.5" height="7.2" fill="#141414"/>
<rect x="695.50" y="243.0" width="1.5" height="10.2" fill="#62625e"/>
<rect x="697.08" y="251.7" width="1.5" height="12.3" fill="#141414"/>
<rect x="698.66" y="248.0" width="1.5" height="10.6" fill="#62625e"/>
<rect x="700.24" y="247.2" width="1.5" height="9.3" fill="#62625e"/>
<rect x="701.82" y="243.0" width="1.5" height="17.2" fill="#141414"/>
<rect x="703.40" y="245.9" width="1.5" height="14.5" fill="#141414"/>
<rect x="704.98" y="258.9" width="1.5" height="28.1" fill="#141414"/>
<rect x="706.56" y="261.0" width="1.5" height="15.7" fill="#62625e"/>
<rect x="708.14" y="275.2" width="1.5" height="20.8" fill="#141414"/>
<rect x="709.72" y="280.7" width="1.5" height="8.7" fill="#62625e"/>
<rect x="711.30" y="277.0" width="1.5" height="6.0" fill="#62625e"/>
<rect x="712.88" y="277.0" width="1.5" height="6.0" fill="#141414"/>
<rect x="714.46" y="281.5" width="1.5" height="11.8" fill="#141414"/>
<rect x="716.04" y="290.0" width="1.5" height="7.0" fill="#141414"/>
<rect x="717.62" y="283.0" width="1.5" height="15.0" fill="#62625e"/>
<rect x="719.20" y="296.5" width="1.5" height="13.5" fill="#141414"/>
<rect x="720.78" y="296.0" width="1.5" height="9.6" fill="#62625e"/>
<rect x="722.36" y="304.1" width="1.5" height="16.8" fill="#141414"/>
<rect x="723.94" y="316.9" width="1.5" height="13.1" fill="#141414"/>
<rect x="725.52" y="314.0" width="1.5" height="8.6" fill="#62625e"/>
<rect x="727.10" y="318.1" width="1.5" height="6.9" fill="#141414"/>
<rect x="728.68" y="304.0" width="1.5" height="15.6" fill="#62625e"/>
<rect x="730.26" y="310.0" width="1.5" height="15.0" fill="#141414"/>
<rect x="731.84" y="315.9" width="1.5" height="6.1" fill="#141414"/>
<rect x="733.42" y="315.1" width="1.5" height="5.0" fill="#62625e"/>
<rect x="735.00" y="315.4" width="1.5" height="5.0" fill="#141414"/>
<rect x="736.58" y="313.0" width="1.5" height="5.3" fill="#62625e"/>
<rect x="738.16" y="314.0" width="1.5" height="7.0" fill="#141414"/>
<rect x="739.74" y="314.0" width="1.5" height="7.0" fill="#141414"/>
<rect x="741.32" y="319.5" width="1.5" height="17.5" fill="#141414"/>
<rect x="742.90" y="314.0" width="1.5" height="16.0" fill="#62625e"/>
<rect x="744.48" y="302.0" width="1.5" height="13.5" fill="#62625e"/>
<rect x="746.06" y="306.6" width="1.5" height="7.4" fill="#141414"/>
<rect x="747.64" y="304.3" width="1.5" height="7.0" fill="#62625e"/>
<rect x="749.22" y="293.8" width="1.5" height="12.0" fill="#62625e"/>
<rect x="750.80" y="291.0" width="1.5" height="19.0" fill="#141414"/>
<rect x="752.38" y="286.0" width="1.5" height="37.0" fill="#141414"/>
<rect x="753.96" y="302.1" width="1.5" height="18.0" fill="#141414"/>
<rect x="755.54" y="313.0" width="1.5" height="9.8" fill="#141414"/>
<rect x="757.12" y="315.5" width="1.5" height="14.5" fill="#141414"/>
<rect x="758.70" y="322.0" width="1.5" height="8.0" fill="#141414"/>
<rect x="760.28" y="322.0" width="1.5" height="8.0" fill="#141414"/>
<rect x="761.86" y="322.0" width="1.5" height="8.0" fill="#141414"/>
<rect x="763.44" y="326.0" width="1.5" height="8.2" fill="#141414"/>
<rect x="765.02" y="329.3" width="1.5" height="12.7" fill="#141414"/>
<rect x="766.60" y="312.0" width="1.5" height="18.8" fill="#62625e"/>
<rect x="768.18" y="314.0" width="1.5" height="34.0" fill="#141414"/>
<rect x="769.76" y="318.3" width="1.5" height="19.6" fill="#62625e"/>
<rect x="771.34" y="317.0" width="1.5" height="10.0" fill="#62625e"/>
<rect x="772.92" y="321.7" width="1.5" height="15.3" fill="#141414"/>
<rect x="774.50" y="321.2" width="1.5" height="13.2" fill="#62625e"/>
<rect x="776.08" y="328.1" width="1.5" height="11.9" fill="#141414"/>
<rect x="777.66" y="323.0" width="1.5" height="10.6" fill="#62625e"/>
<rect x="779.24" y="326.6" width="1.5" height="10.8" fill="#141414"/>
<rect x="780.82" y="335.8" width="1.5" height="15.2" fill="#141414"/>
<rect x="782.40" y="339.0" width="1.5" height="8.5" fill="#141414"/>
<rect x="783.98" y="335.0" width="1.5" height="12.0" fill="#62625e"/>
<rect x="785.56" y="332.0" width="1.5" height="12.5" fill="#62625e"/>
<rect x="787.14" y="337.2" width="1.5" height="12.8" fill="#141414"/>
<rect x="788.72" y="335.6" width="1.5" height="11.5" fill="#62625e"/>
<rect x="790.30" y="336.5" width="1.5" height="10.0" fill="#141414"/>
<rect x="791.88" y="332.0" width="1.5" height="18.0" fill="#62625e"/>
<rect x="793.46" y="321.0" width="1.5" height="12.5" fill="#62625e"/>
<rect x="795.04" y="326.3" width="1.5" height="8.7" fill="#141414"/>
<rect x="796.62" y="323.6" width="1.5" height="8.3" fill="#62625e"/>
<rect x="797.00" y="328.0" width="1.5" height="36.0" fill="#141414"/>
<rect x="798.20" y="361.0" width="1.5" height="15.0" fill="#141414"/>
<rect x="799.78" y="362.6" width="1.5" height="6.5" fill="#62625e"/>
<rect x="801.36" y="367.6" width="1.5" height="10.3" fill="#141414"/>
<rect x="802.94" y="373.8" width="1.5" height="6.2" fill="#141414"/>
<rect x="804.52" y="375.0" width="1.5" height="14.5" fill="#141414"/>
<rect x="806.10" y="381.8" width="1.5" height="18.2" fill="#141414"/>
<rect x="807.68" y="393.0" width="1.5" height="18.0" fill="#141414"/>
<rect x="809.26" y="402.2" width="1.5" height="13.8" fill="#141414"/>
<rect x="810.84" y="414.5" width="1.5" height="42.5" fill="#141414"/>
<rect x="812.42" y="414.0" width="1.5" height="28.9" fill="#62625e"/>
<rect x="814.00" y="429.9" width="1.5" height="20.1" fill="#141414"/>
<rect x="815.58" y="424.0" width="1.5" height="19.4" fill="#62625e"/>
<rect x="816.00" y="441.9" width="1.5" height="28.1" fill="#141414"/>
<rect x="817.16" y="445.0" width="1.5" height="88.0" fill="#141414"/>
<rect x="818.74" y="459.0" width="1.5" height="30.9" fill="#62625e"/>
<rect x="820.32" y="440.0" width="1.5" height="25.9" fill="#62625e"/>
<rect x="821.90" y="447.2" width="1.5" height="26.8" fill="#141414"/>
<rect x="823.48" y="460.1" width="1.5" height="13.7" fill="#141414"/>
<rect x="825.06" y="460.5" width="1.5" height="17.5" fill="#141414"/>
<rect x="826.64" y="452.0" width="1.5" height="15.3" fill="#62625e"/>
<rect x="828.22" y="447.5" width="1.5" height="12.7" fill="#62625e"/>
<rect x="829.80" y="435.0" width="1.5" height="34.0" fill="#62625e"/>
<rect x="831.38" y="447.7" width="1.5" height="14.9" fill="#141414"/>
<rect x="832.96" y="449.0" width="1.5" height="15.0" fill="#141414"/>
<rect x="834.54" y="445.0" width="1.5" height="10.2" fill="#62625e"/>
<rect x="836.12" y="453.7" width="1.5" height="23.3" fill="#141414"/>
<rect x="837.70" y="457.9" width="1.5" height="11.4" fill="#62625e"/>
<rect x="839.28" y="450.0" width="1.5" height="22.2" fill="#62625e"/>
<rect x="840.86" y="445.0" width="1.5" height="22.9" fill="#62625e"/>
<rect x="842.44" y="451.7" width="1.5" height="15.7" fill="#141414"/>
<rect x="844.02" y="457.7" width="1.5" height="17.3" fill="#141414"/>
<rect x="845.60" y="456.1" width="1.5" height="10.9" fill="#62625e"/>
<rect x="847.18" y="456.5" width="1.5" height="16.5" fill="#141414"/>
<rect x="848.76" y="452.0" width="1.5" height="14.3" fill="#62625e"/>
<rect x="850.34" y="454.6" width="1.5" height="15.3" fill="#141414"/>
<rect x="851.92" y="454.5" width="1.5" height="18.5" fill="#141414"/>
<rect x="853.50" y="446.0" width="1.5" height="15.3" fill="#62625e"/>
<rect x="855.08" y="459.8" width="1.5" height="10.9" fill="#141414"/>
<rect x="856.66" y="460.0" width="1.5" height="10.8" fill="#141414"/>
<rect x="858.24" y="466.5" width="1.5" height="10.5" fill="#141414"/>
<rect x="859.82" y="457.2" width="1.5" height="10.8" fill="#62625e"/>
<rect x="861.40" y="453.0" width="1.5" height="13.2" fill="#62625e"/>
<rect x="862.98" y="459.5" width="1.5" height="13.5" fill="#141414"/>
<rect x="864.56" y="470.1" width="1.5" height="10.0" fill="#141414"/>
<rect x="866.14" y="472.1" width="1.5" height="14.9" fill="#141414"/>
<rect x="867.72" y="460.0" width="1.5" height="17.3" fill="#62625e"/>
<rect x="869.30" y="462.0" width="1.5" height="10.3" fill="#62625e"/>
<rect x="870.88" y="464.8" width="1.5" height="7.6" fill="#141414"/>
<rect x="872.46" y="466.8" width="1.5" height="8.2" fill="#141414"/>
<rect x="874.04" y="447.6" width="1.5" height="20.7" fill="#62625e"/>
<rect x="875.62" y="441.0" width="1.5" height="13.0" fill="#62625e"/>
<rect x="877.20" y="424.8" width="1.5" height="17.7" fill="#62625e"/>
<rect x="878.78" y="425.3" width="1.5" height="6.3" fill="#62625e"/>
<rect x="880.36" y="424.1" width="1.5" height="11.9" fill="#141414"/>
<rect x="881.94" y="420.0" width="1.5" height="9.3" fill="#62625e"/>
<rect x="883.52" y="427.8" width="1.5" height="37.2" fill="#141414"/>
<rect x="885.10" y="451.1" width="1.5" height="14.9" fill="#141414"/>
<rect x="886.68" y="446.0" width="1.5" height="17.2" fill="#62625e"/>
<rect x="888.26" y="453.2" width="1.5" height="7.1" fill="#141414"/>
<rect x="889.84" y="454.0" width="1.5" height="5.4" fill="#141414"/>
<rect x="891.42" y="456.0" width="1.5" height="5.7" fill="#141414"/>
<rect x="893.00" y="456.2" width="1.5" height="6.8" fill="#141414"/>
<rect x="894.58" y="455.5" width="1.5" height="5.0" fill="#62625e"/>
<rect x="896.16" y="439.0" width="1.5" height="18.0" fill="#62625e"/>
<rect x="897.74" y="430.0" width="1.5" height="18.7" fill="#62625e"/>
<rect x="899.32" y="438.9" width="1.5" height="25.1" fill="#141414"/>
<rect x="900.90" y="441.2" width="1.5" height="14.4" fill="#62625e"/>
<rect x="902.48" y="433.0" width="1.5" height="24.0" fill="#62625e"/>
<rect x="904.06" y="438.6" width="1.5" height="9.6" fill="#62625e"/>
<rect x="905.64" y="446.0" width="1.5" height="8.4" fill="#141414"/>
<rect x="907.22" y="449.6" width="1.5" height="8.4" fill="#141414"/>
<rect x="908.80" y="448.6" width="1.5" height="5.0" fill="#62625e"/>
<rect x="910.38" y="452.1" width="1.5" height="23.9" fill="#141414"/>
<rect x="911.96" y="458.6" width="1.5" height="11.1" fill="#141414"/>
<rect x="913.54" y="468.2" width="1.5" height="23.6" fill="#141414"/>
<rect x="915.12" y="479.9" width="1.5" height="14.1" fill="#141414"/>
<rect x="916.70" y="473.0" width="1.5" height="9.9" fill="#62625e"/>
<rect x="918.28" y="481.4" width="1.5" height="32.6" fill="#141414"/>
<rect x="919.86" y="512.0" width="1.5" height="61.0" fill="#141414"/>
<rect x="921.44" y="553.0" width="1.5" height="51.0" fill="#141414"/>
<rect x="923.02" y="583.0" width="1.5" height="31.0" fill="#141414"/>
<rect x="924.60" y="585.0" width="1.5" height="41.7" fill="#141414"/>
<rect x="926.18" y="604.2" width="1.5" height="38.8" fill="#141414"/>
<rect x="927.76" y="603.5" width="1.5" height="20.8" fill="#62625e"/>
<rect x="929.34" y="622.8" width="1.5" height="12.6" fill="#141414"/>
<rect x="930.92" y="611.0" width="1.5" height="18.4" fill="#62625e"/>
<rect x="932.50" y="615.7" width="1.5" height="14.7" fill="#141414"/>
<rect x="934.08" y="622.4" width="1.5" height="17.6" fill="#141414"/>
<rect x="935.66" y="628.0" width="1.5" height="76.0" fill="#141414"/>
<rect x="937.24" y="646.0" width="1.5" height="49.0" fill="#141414"/>
<rect x="938.82" y="646.9" width="1.5" height="19.6" fill="#62625e"/>
<rect x="940.40" y="633.1" width="1.5" height="15.3" fill="#62625e"/>
<rect x="941.98" y="635.1" width="1.5" height="18.9" fill="#141414"/>
<rect x="943.56" y="622.0" width="1.5" height="25.9" fill="#62625e"/>
<rect x="945.14" y="613.7" width="1.5" height="10.2" fill="#62625e"/>
<rect x="946.72" y="607.0" width="1.5" height="29.0" fill="#141414"/>
<rect x="948.30" y="633.4" width="1.5" height="16.6" fill="#141414"/>
<rect x="949.88" y="632.2" width="1.5" height="9.8" fill="#62625e"/>
<rect x="951.46" y="625.0" width="1.5" height="20.1" fill="#62625e"/>
<rect x="953.04" y="612.0" width="1.5" height="14.5" fill="#62625e"/>
<rect x="954.62" y="614.7" width="1.5" height="11.3" fill="#141414"/>
<rect x="956.20" y="620.1" width="1.5" height="8.9" fill="#141414"/>
<rect x="957.78" y="606.8" width="1.5" height="14.8" fill="#62625e"/>
<rect x="959.36" y="608.3" width="1.5" height="8.8" fill="#62625e"/>
<rect x="960.94" y="604.0" width="1.5" height="14.2" fill="#62625e"/>
<rect x="962.52" y="609.8" width="1.5" height="12.2" fill="#141414"/>
<rect x="964.10" y="620.5" width="1.5" height="15.5" fill="#141414"/>
<rect x="965.68" y="611.0" width="1.5" height="14.3" fill="#62625e"/>
<rect x="967.26" y="617.5" width="1.5" height="11.2" fill="#141414"/>
<rect x="968.84" y="627.1" width="1.5" height="17.2" fill="#141414"/>
<rect x="970.42" y="642.8" width="1.5" height="6.2" fill="#141414"/>
<rect x="972.00" y="647.1" width="1.5" height="21.8" fill="#141414"/>
<rect x="973.58" y="643.0" width="1.5" height="18.6" fill="#62625e"/>
<rect x="975.16" y="650.5" width="1.5" height="26.5" fill="#141414"/>
<rect x="976.74" y="625.0" width="1.5" height="45.0" fill="#62625e"/>
<rect x="978.32" y="665.6" width="1.5" height="8.4" fill="#141414"/>
<rect x="979.90" y="660.0" width="1.5" height="7.1" fill="#62625e"/>
<rect x="981.48" y="663.3" width="1.5" height="7.4" fill="#141414"/>
<rect x="983.06" y="665.5" width="1.5" height="5.8" fill="#141414"/>
<rect x="984.64" y="654.2" width="1.5" height="12.8" fill="#62625e"/>
<rect x="986.22" y="652.3" width="1.5" height="14.7" fill="#62625e"/>
<rect x="987.80" y="649.0" width="1.5" height="12.4" fill="#62625e"/>
<rect x="989.38" y="632.0" width="1.5" height="28.0" fill="#62625e"/>
<rect x="990.96" y="639.6" width="1.5" height="16.0" fill="#141414"/>
<rect x="992.54" y="632.3" width="1.5" height="13.7" fill="#62625e"/>
<rect x="994.12" y="629.0" width="1.5" height="13.2" fill="#62625e"/>
<rect x="995.70" y="630.8" width="1.5" height="9.2" fill="#141414"/>
<rect x="997.28" y="607.1" width="1.5" height="27.9" fill="#62625e"/>
<rect x="998.86" y="590.0" width="1.5" height="30.2" fill="#62625e"/>
<rect x="1000.44" y="601.3" width="1.5" height="16.7" fill="#141414"/>
<rect x="1002.02" y="598.0" width="1.5" height="12.4" fill="#62625e"/>
<rect x="1003.60" y="608.9" width="1.5" height="18.3" fill="#141414"/>
<rect x="1005.18" y="617.1" width="1.5" height="12.9" fill="#141414"/>
<rect x="1006.76" y="610.0" width="1.5" height="11.5" fill="#62625e"/>
<rect x="1008.34" y="620.0" width="1.5" height="22.5" fill="#141414"/>
<rect x="1009.92" y="629.0" width="1.5" height="15.7" fill="#141414"/>
<rect x="1011.50" y="638.7" width="1.5" height="10.3" fill="#141414"/>
<rect x="1013.08" y="647.5" width="1.5" height="23.5" fill="#141414"/>
<rect x="1014.66" y="643.0" width="1.5" height="16.8" fill="#62625e"/>
<rect x="1016.24" y="639.9" width="1.5" height="8.2" fill="#62625e"/>
<rect x="1017.82" y="635.0" width="1.5" height="13.9" fill="#62625e"/>
<rect x="1019.40" y="640.1" width="1.5" height="12.9" fill="#141414"/>
<rect x="1020.98" y="617.9" width="1.5" height="23.7" fill="#62625e"/>
<rect x="1022.56" y="615.0" width="1.5" height="11.7" fill="#62625e"/>
<rect x="1024.14" y="620.3" width="1.5" height="11.7" fill="#141414"/>
<rect x="1025.72" y="610.7" width="1.5" height="11.0" fill="#62625e"/>
<rect x="1027.30" y="612.1" width="1.5" height="11.9" fill="#141414"/>
<rect x="1028.88" y="605.0" width="1.5" height="8.6" fill="#62625e"/>
<rect x="1030.46" y="588.0" width="1.5" height="22.0" fill="#62625e"/>
<rect x="1032.04" y="588.9" width="1.5" height="9.7" fill="#62625e"/>
<rect x="1033.62" y="580.0" width="1.5" height="23.0" fill="#62625e"/>
<rect x="1035.20" y="562.0" width="1.5" height="21.0" fill="#62625e"/>
<rect x="1036.78" y="563.5" width="1.5" height="11.0" fill="#62625e"/>
</g>
<rect x="0" y="744" width="1535" height="2" fill="#231385"/>
<rect x="0" y="753" width="1535" height="2" fill="#281a78"/>
<rect x="0" y="840.5" width="1596" height="1.3" fill="#2a2620"/>
<rect x="1534" y="0" width="1.3" height="861" fill="#1a1612"/>
</svg>
<div class="hdr" style="left:2.6px;transform:scaleX(0.88)">BTCUSD, 12h, COINBASE</div><div class="hdr" style="left:137.3px;transform:scaleX(0.97)">O23398.46</div><div class="hdr" style="left:201.2px">H23861.48</div><div class="hdr" style="left:263.8px">L22899.00</div><div class="hdr" style="left:325.2px">C23405.90</div>
<div class="yl" style="top:6.4px;letter-spacing:-0.9px;-webkit-text-stroke:0.25px #2e2d28">USD</div>
<div class="yl" style="top:38.8px">72500.00</div>
<div class="yl" style="top:79.4px">66500.00</div>
<div class="yl" style="top:108.7px">62500.00</div>
<div class="yl" style="top:139.6px">58500.00</div>
<div class="yl" style="top:172.1px">54500.00</div>
<div class="yl" style="top:207.1px">50500.00</div>
<div class="yl" style="top:246.1px">46500.00</div>
<div class="yl" style="top:288.4px">42500.00</div>
<div class="yl" style="top:321.7px">39500.00</div>
<div class="yl" style="top:359.3px">36500.00</div>
<div class="yl" style="top:399.1px">33500.00</div>
<div class="yl" style="top:428.4px">31500.00</div>
<div class="yl" style="top:458.5px">29500.00</div>
<div class="yl" style="top:491.1px">27500.00</div>
<div class="yl" style="top:526.9px">25500.00</div>
<div class="yl" style="top:555.4px">24000.00</div>
<div class="yl" style="top:586.3px">22400.00</div>
<div class="yl" style="top:621.3px">20800.00</div>
<div class="yl" style="top:648.9px">19600.00</div>
<div class="yl" style="top:679.8px">18350.00</div>
<div class="yl" style="top:711.5px">17150.00</div>
<div class="yl" style="top:769.9px">15150.00</div>
<div class="yl" style="top:798.5px">14250.00</div>
<div class="yl" style="top:827.2px">13410.00</div>
<div class="xl" style="left:-11.2px">Sep</div>
<div class="xl" style="left:83.2px">Oct</div>
<div class="xl" style="left:181.6px">Nov</div>
<div class="xl" style="left:276.5px">Dec</div>
<div class="xl b" style="left:374.3px">2022</div>
<div class="xl" style="left:472.1px">Feb</div>
<div class="xl" style="left:560.5px">Mar</div>
<div class="xl" style="left:658.6px">Apr</div>
<div class="xl" style="left:753.5px">May</div>
<div class="xl" style="left:851.7px">Jun</div>
<div class="xl" style="left:946.2px">Jul</div>
<div class="xl" style="left:1044.0px">Aug</div>
<div class="xl" style="left:1142.0px">Sep</div>
<div class="xl" style="left:1236.5px">Oct</div>
<div class="xl" style="left:1335.0px">Nov</div>
<div class="xl" style="left:1429.4px">Dec</div>
<div class="an" style="left:217.0px;top:39.5px;transform:scaleX(0.975);transform-origin:0 0">High</div>
<div class="an" style="left:299.1px;top:300.6px">Low</div>
<div class="an" style="left:455.1px;top:417.5px">LL</div>
<div class="an" style="left:665.1px;top:208.5px">LH</div>
<div class="an" style="left:872.3px;top:394.6px">LH</div>
<div class="an" style="left:807.4px;top:533.9px">LL</div>
<div class="an" style="left:1020.9px;top:535.9px">LH</div>
<div class="an" style="left:924.2px;top:703.9px">LL</div>
<div class="an" style="left:1083.9px;top:756.4px">LL</div>
<div class="an" style="left:1110.6px;top:756.4px;transform:scaleX(0.74);transform-origin:left top">?</div>
<div class="tag" style="top:564px;height:28px;background:#050505;"></div>
<div class="tt" style="top:565.6px;left:1544.3px;color:#ececec;letter-spacing:-0.3px">23405.90</div>
<div class="tt" style="top:578.6px;left:1544.2px;color:#b4b4b4;letter-spacing:-0.15px">03:08:40</div>
<div class="tag" style="top:737px;height:15.5px;background:#2e16d4;"></div>
<div class="tag" style="top:752.5px;height:15.5px;background:#2e16d4;"></div>
<div class="tt" style="top:739.3px;left:1544.6px;color:#d2caff;letter-spacing:-0.3px">16130.37</div>
<div class="tt" style="top:755.0px;left:1544.6px;color:#d2caff;letter-spacing:-0.3px">15837.79</div>
</div></body></html>
